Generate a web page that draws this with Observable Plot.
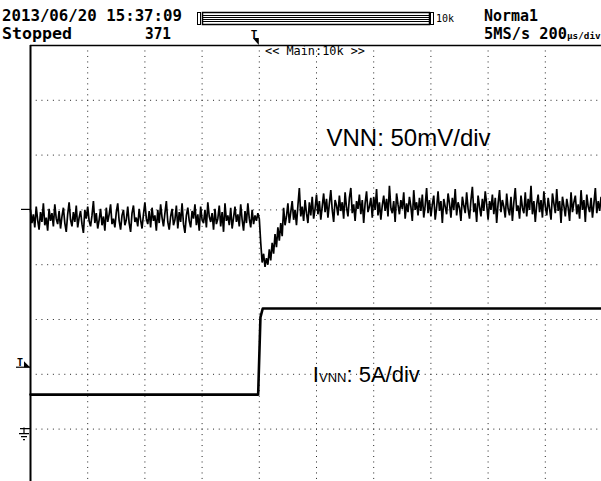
<!DOCTYPE html>
<html><head><meta charset="utf-8">
<script src="https://cdn.jsdelivr.net/npm/d3@7"></script>
<script src="https://cdn.jsdelivr.net/npm/@observablehq/plot@0.6"></script>
<style>
body{margin:0;background:#fff}
#wrap{position:relative;width:601px;height:481px;overflow:hidden;background:#fff}
#chart{position:absolute;left:0;top:0}
</style></head><body>
<div id="wrap"><div id="chart"></div></div>
<script>
// ---- header texts ----
const dateText = "2013/06/20 15:37:09";
const stateText = "Stopped";
const countText = "371";
const modeText = "Norma1";
const rateText = "5MS/s 200";
const rateUnit = "μs/div";
const memText = "10k";
const zoomText = "<< Main:10k >>";
// ---- channel labels ----
const vnnLabel = "VNN: 50mV/div";
const iLabelMain = "I", iLabelSub = "VNN", iLabelRest = ": 5A/div";
// ---- scales: time (µs), divisions ----
const tDomain = [-800, 1200];         // 200 µs/div, 10 div
const divDomain = [0, 8];            // 8 vertical divisions
const vnnPerDiv = 50;                // mV/div
const iPerDiv = 5;                   // A/div
const vnnOffsetDiv = 5;              // CH1 marker level (div)
const iOffsetDiv = 1;                // CH2 ground level (div)
const trigLevelA = 5.6;              // trigger level (A)
const gridX = [-600, -400, -200, 0, 200, 400, 600, 800, 1000];
const gridY = [1, 2, 3, 4, 5, 6, 7];
// ---- VNN trace, mV, one sample every 5 µs from -800 µs ----
const vnnStep = 5;
const vnnPre = [
0,-12,-4,-16,3,-9,-18,-2,-11,6,-14,-7,-19,1,-10,-3,-15,5,-8,-13,
-1,-17,-6,2,-12,-20,-4,7,-9,-15,-2,-11,4,-16,-7,-1,-13,-21,0,-8,
3,-10,-15,-5,8,-12,-3,-17,-9,1,-14,-6,-19,2,-11,-4,5,-13,-8,-16,
-2,6,-10,-18,-5,0,-14,-9,3,-12,-20,-3,4,-11,-7,-15,1,-9,-17,-4,
7,-8,-13,-1,-16,2,-10,-5,-19,0,-12,5,-7,-15,-3,8,-11,-18,-6,1,
-14,-9,4,-17,-2,-11,6,-13,-21,-5,2,-10,-16,-1,-8,5,-14,-4,-19,3,
-9,-12,0,-16,7,-6,-11,-3,-18,1,-13,-8,4,-15,-2,-20,6,-10,-5,-14,
2,-17,-7,3,-11,-4,-15,5,-9,-19,-1,-12,6,-8,-16,0,-13,-5,-10,-3
];
const vnnDip = [
-8,
-30,-48,-40,-52,-44,-50,-36,-46,-30,-40,
-22,-34,-16,-28,-12,-24,2,-14,-6,6,
-12,-2,8,-9,0,-14,4,20,-6,3,
-10,9,-3,-12,7,-5,12,-8,1,14
];
const vnnPost = [
-4,8,-9,3,15,-2,10,-7,6,18,0,-11,9,4,-5,13,-1,7,-8,16,
2,-6,11,20,-3,5,-10,8,1,14,-4,9,-12,6,17,-2,3,11,-7,12,
0,19,-5,7,-9,4,13,-1,10,-6,22,2,-3,8,-11,15,5,-4,9,1,
16,-8,6,-2,12,3,-10,18,0,7,-5,11,-1,14,-7,4,20,-3,9,-6,
5,13,-9,2,17,-1,8,-12,10,3,-4,15,6,-7,11,0,19,-5,7,2,
-10,12,4,-3,16,1,-8,9,21,-2,6,-11,13,3,-6,10,-1,17,5,-9,
8,0,14,-4,11,-12,6,18,-2,9,3,-7,15,1,-5,12,-10,7,20,-1,
4,-8,13,2,-3,16,-6,10,0,22,-4,8,-11,5,14,-2,9,-7,17,3,
-5,11,1,-9,15,6,-3,19,-1,8,-12,12,4,-6,10,2,-10,16,-2,7,
13,-4,5,-8,18,0,9,-11,14,3,-2,11,-7,6,20,-3,8,-1,12,4
];
const vnnMV = [...vnnPre, ...vnnDip, ...vnnPost];
// ---- IVNN trace, A ----
const iT = [-800, -4, 4, 12, 1200];
const iA = [3.15, 3.15, 10.2, 11.0, 11.0];

const vnnData = vnnMV.map((v, i) => ({t: tDomain[0] + i * vnnStep, d: vnnOffsetDiv + v / vnnPerDiv}));
const iData = iT.map((t, i) => ({t, d: iOffsetDiv + iA[i] / iPerDiv}));

const W = 601, H = 481, L = 30, TOP = 45, DX = 57.2, DY = 54.8;

const plot = Plot.plot({
  width: W, height: H,
  marginLeft: L, marginTop: TOP, marginRight: 0, marginBottom: 0,
  x: {domain: tDomain, range: [L, L + 10 * DX], axis: null},
  y: {domain: divDomain, range: [TOP + 8 * DY, TOP], axis: null},
  style: {background: "#fff", overflow: "hidden"},
  marks: [
    Plot.ruleX(gridX, {stroke: "#222", strokeWidth: 1, strokeDasharray: `1,${DY / 10 - 1}`}),
    Plot.ruleY(gridY, {stroke: "#222", strokeWidth: 1, strokeDasharray: `1,${DX / 10 - 1}`}),
    Plot.ruleX([tDomain[0]], {stroke: "#000", strokeWidth: 2}),
    Plot.ruleY([divDomain[1]], {stroke: "#000", strokeWidth: 1.5}),
    Plot.line(vnnData, {x: "t", y: "d", stroke: "#000", strokeWidth: 1.7, strokeLinejoin: "miter"}),
    Plot.line(iData, {x: "t", y: "d", stroke: "#000", strokeWidth: 2.6}),
    Plot.text([vnnLabel], {x: 235, y: 6.16, text: d => d, textAnchor: "start", lineAnchor: "bottom",
      fontSize: 24, fontFamily: "Liberation Sans, Arial, sans-serif", fill: "#000"})
  ]
});
document.getElementById("chart").appendChild(plot);

const sx = plot.scale("x"), sy = plot.scale("y");
const svg = d3.select(plot);
const x0 = sx.apply(tDomain[0]);
const ann = svg.append("g").attr("text-anchor", "start");

// IVNN label with smaller letters for the subscript
const ix = sx.apply(189), iy = sy.apply(1.85);
const it = ann.append("text").attr("x", ix).attr("y", iy)
  .attr("font-family", "Liberation Sans, Arial, sans-serif").attr("fill", "#000");
it.append("tspan").attr("font-size", 22).text(iLabelMain);
it.append("tspan").attr("font-size", 13).text(iLabelSub);
it.append("tspan").attr("font-size", 22).text(iLabelRest);

// CH1 marker
const yv = sy.apply(vnnOffsetDiv);
ann.append("line").attr("x1", x0 - 9).attr("x2", x0).attr("y1", yv).attr("y2", yv).attr("stroke", "#000").attr("stroke-width", 1.2);
// trigger level marker
const yt = sy.apply(iOffsetDiv + trigLevelA / iPerDiv);
ann.append("line").attr("x1", x0 - 14).attr("x2", x0).attr("y1", yt).attr("y2", yt).attr("stroke", "#000").attr("stroke-width", 1.2);
ann.append("text").attr("x", x0 - 13).attr("y", yt - 1.5).attr("font-family", "DejaVu Sans Mono").attr("font-weight", "bold").attr("font-size", 10).text("T");
ann.append("path").attr("d", `M${x0 - 6},${yt - 6}L${x0 - 6},${yt}L${x0},${yt}Z`).attr("fill", "#000");
// CH2 ground marker
const yg = sy.apply(iOffsetDiv);
const gnd = `M${x0 - 10},${yg}H${x0} M${x0 - 6},${yg - 1}V${yg + 5} M${x0 - 11},${yg + 5}H${x0 - 1} M${x0 - 9},${yg + 8}H${x0 - 3} M${x0 - 7},${yg + 11}H${x0 - 5}`;
ann.append("path").attr("d", gnd).attr("stroke", "#000").attr("stroke-width", 1.2).attr("fill", "none");

// header overlay
const xt = sx.apply(0);
const hdr = svg.append("g").attr("font-family", "DejaVu Sans Mono, monospace").attr("fill", "#000").attr("text-anchor", "start");
const bold = (x, y, s, size, len) => {
  const t = hdr.append("text").attr("x", x).attr("y", y).attr("font-size", size).attr("font-weight", "bold").text(s);
  if (len) t.attr("textLength", len).attr("lengthAdjust", "spacingAndGlyphs");
  return t;
};
bold(2, 21, dateText, 15.5, 180);
bold(2, 39, stateText, 15.5, 70);
bold(145, 39, countText, 15.5, 26);
bold(484, 21, modeText, 15.5, 54);
bold(484, 39, rateText, 15.5, 83);
bold(567, 39, rateUnit, 9.3);
// memory bar
const mb = hdr.append("g").attr("stroke", "#000").attr("fill", "none").attr("stroke-width", 1);
mb.append("rect").attr("x", 197.5).attr("y", 12.5).attr("width", 3).attr("height", 12);
mb.append("rect").attr("x", 202.5).attr("y", 12.5).attr("width", 227).attr("height", 12).attr("stroke-width", 1.5);
[15.5, 17.5, 19.5, 21.5].forEach(y => mb.append("line").attr("x1", 202.5).attr("x2", 429.5).attr("y1", y).attr("y2", y));
mb.append("rect").attr("x", 430.5).attr("y", 12.5).attr("width", 3).attr("height", 12);
hdr.append("text").attr("x", 436).attr("y", 22).attr("font-size", 10).text(memText);
// trigger position marker
hdr.append("text").attr("x", xt - 8).attr("y", 38).attr("font-size", 11).attr("font-weight", "bold").text("T");
hdr.append("path").attr("d", `M${xt - 6},${TOP - 7}H${xt}V${TOP}Z`).attr("fill", "#000");
// zoom text
hdr.append("text").attr("x", 265).attr("y", 55).attr("font-size", 11.5).attr("textLength", 100).attr("lengthAdjust", "spacingAndGlyphs").text(zoomText);
</script>
</body></html>
